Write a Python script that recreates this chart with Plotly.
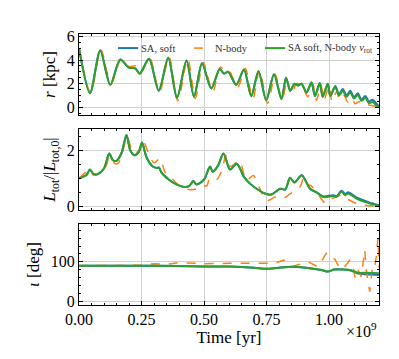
import plotly.graph_objects as go
from plotly.subplots import make_subplots

# time in units of 1e9 yr
t_r_soft = [0.0, 0.044, 0.085, 0.125, 0.165, 0.2, 0.225, 0.243, 0.28, 0.319, 0.357, 0.392, 0.43, 0.46,
            0.492, 0.529, 0.563, 0.58, 0.597, 0.629, 0.66, 0.689, 0.718, 0.749, 0.78, 0.81, 0.828, 0.845,
            0.862, 0.876, 0.89, 0.91, 0.93, 0.944, 0.963, 0.975, 0.995, 1.005, 1.025, 1.04, 1.055, 1.07,
            1.085, 1.1, 1.115, 1.13, 1.145, 1.16, 1.175, 1.19, 1.2]
r_soft = [5.0, 1.2, 4.8, 1.9, 4.05, 3.35, 3.3, 2.85, 4.1, 1.4, 4.2, 0.8, 3.95, 0.9,
          3.72, 1.6, 3.25, 2.85, 3.0, 1.9, 3.2, 0.94, 3.05, 0.6, 2.8, 0.7, 2.5, 1.4,
          2.0, 1.85, 2.0, 1.25, 2.1, 0.95, 2.05, 0.9, 2.0, 0.95, 1.8, 1.1, 1.55, 1.0,
          1.4, 0.85, 1.2, 0.65, 0.95, 0.5, 0.65, 0.3, 0.08]
r_vrot = [5.0, 1.2, 4.8, 1.9, 4.05, 3.35, 3.3, 2.85, 4.1, 1.4, 4.2, 0.8, 3.95, 0.9,
          3.72, 1.6, 3.25, 2.85, 3.0, 1.9, 3.2, 0.94, 3.05, 0.6, 2.8, 0.7, 2.5, 1.4,
          2.0, 1.85, 2.0, 1.25, 2.1, 0.95, 2.05, 0.9, 2.0, 0.95, 1.75, 1.0, 1.4, 0.9,
          1.25, 0.75, 1.05, 0.55, 0.8, 0.35, 0.45, 0.15, 0.05]

t_r_nbody = [0.0, 0.046, 0.088, 0.128, 0.168, 0.2, 0.228, 0.248, 0.283, 0.322, 0.36, 0.395, 0.435, 0.465,
             0.497, 0.535, 0.565, 0.585, 0.6, 0.635, 0.665, 0.695, 0.722, 0.755, 0.785, 0.812, 0.832, 0.85,
             0.87, 0.89, 0.915, 0.935, 0.95, 0.968, 0.98, 1.0, 1.012, 1.03, 1.045, 1.06, 1.075, 1.09,
             1.105, 1.12, 1.14, 1.16, 1.2]
r_nbody = [5.0, 1.25, 4.85, 1.95, 4.05, 3.45, 3.5, 2.95, 4.15, 1.3, 4.25, 0.55, 4.1, 0.75,
           3.8, 1.3, 3.4, 3.05, 3.1, 1.7, 3.3, 0.7, 3.1, 0.35, 2.8, 0.5, 2.3, 1.1,
           2.0, 1.9, 0.9, 2.0, 0.6, 1.9, 0.6, 1.8, 0.5, 1.3, 0.6, 1.0, 0.45, 0.8,
           0.3, 0.5, 0.15, 0.2, 0.0]

t_L_soft = [0.0, 0.03, 0.044, 0.058, 0.075, 0.1, 0.121, 0.135, 0.15, 0.17, 0.19, 0.205, 0.222, 0.24,
            0.252, 0.27, 0.295, 0.312, 0.32, 0.33, 0.36, 0.39, 0.415, 0.44, 0.457, 0.47, 0.5, 0.524,
            0.535, 0.556, 0.578, 0.604, 0.631, 0.66, 0.684, 0.712, 0.737, 0.769, 0.804, 0.825, 0.844,
            0.862, 0.891, 0.924, 0.95, 0.977, 1.017, 1.03, 1.05, 1.065, 1.077, 1.11, 1.15, 1.175, 1.2]
L_soft = [1.0, 1.12, 1.31, 1.15, 1.15, 1.35, 1.88, 1.65, 1.62, 1.9, 2.54, 2.0, 1.82, 1.95,
          2.27, 1.75, 1.42, 1.37, 1.38, 1.2, 0.95, 0.78, 0.7, 0.72, 0.9, 0.78, 0.95, 1.42,
          1.23, 1.45, 1.88, 1.31, 1.52, 1.05, 0.81, 0.62, 0.48, 0.42, 0.63, 0.6, 1.02,
          0.85, 1.11, 0.63, 0.5, 0.35, 0.4, 0.36, 0.56, 0.44, 0.5, 0.32, 0.18, 0.1, 0.04]
L_vrot = [1.0, 1.12, 1.31, 1.15, 1.15, 1.35, 1.88, 1.65, 1.62, 1.9, 2.54, 2.0, 1.82, 1.95,
          2.27, 1.75, 1.42, 1.37, 1.38, 1.2, 0.95, 0.78, 0.7, 0.72, 0.9, 0.78, 0.95, 1.42,
          1.23, 1.45, 1.88, 1.31, 1.52, 1.05, 0.81, 0.62, 0.48, 0.42, 0.63, 0.6, 1.02,
          0.85, 1.11, 0.63, 0.5, 0.33, 0.37, 0.34, 0.52, 0.4, 0.46, 0.28, 0.14, 0.07, 0.02]

t_L_nbody = [0.0, 0.044, 0.057, 0.1, 0.123, 0.14, 0.155, 0.17, 0.192, 0.21, 0.225, 0.24, 0.255, 0.28,
             0.3, 0.324, 0.345, 0.37, 0.4, 0.44, 0.47, 0.495, 0.51, 0.524, 0.55, 0.57, 0.588, 0.605,
             0.641, 0.67, 0.697, 0.72, 0.75, 0.783, 0.8, 0.82, 0.84, 0.884, 0.9, 0.915, 0.931, 0.955,
             0.985, 1.01, 1.05, 1.076, 1.103, 1.143, 1.2]
L_nbody = [1.0, 1.3, 1.12, 1.28, 1.78, 1.55, 1.52, 1.78, 2.48, 2.05, 1.9, 2.0, 2.36, 1.85,
           1.55, 1.7, 1.2, 1.0, 0.75, 0.6, 0.62, 0.75, 0.72, 1.0, 0.95, 1.25, 1.8, 1.42,
           1.62, 0.93, 1.1, 0.7, 0.2, 0.33, 0.36, 0.3, 0.42, 0.69, 1.05, 0.8, 0.71, 0.45,
           0.12, 0.27, 0.39, 0.25, 0.13, 0.04, 0.0]

t_i_soft = [0.0, 0.2, 0.4, 0.5, 0.6, 0.7, 0.75, 0.8, 0.86, 0.93, 0.97, 0.996, 1.02, 1.06, 1.09,
            1.116, 1.15, 1.2]
i_soft = [90, 90, 89, 88, 88, 85, 82, 85, 87, 83, 79, 75, 80, 80, 77, 70, 68, 66]
i_vrot = [90, 90, 89, 88, 88, 85, 82, 85, 87, 83, 79, 75, 80, 80, 78, 72, 72, 71]

t_i_nbody = [0.0, 0.25, 0.3, 0.35, 0.4, 0.45, 0.5, 0.6, 0.676, 0.743, 0.78, 0.82, 0.849, 0.88,
             0.916, 0.956, 0.989, 1.003, 1.023, 1.043, 1.056, 1.083, 1.096, 1.105, 1.116, 1.129,
             1.136, 1.143, 1.149, 1.163, 1.172, 1.18, 1.189, 1.196, 1.2]
i_nbody = [90, 91, 95, 93, 98, 97, 95, 96, 96, 97.5, 96, 104, 87, 93,
           100, 87, 121, 108, 107, 83, 81, 104, 87, 58, 79, 62,
           100, 130, 79, 24, 79, 75, 113, 160, 85]

legend_names = ['SA, soft', 'N-body', 'SA soft, N-body <i>v</i><sub>rot</sub>']

BLUE = '#1f77b4'
ORANGE = '#ff7f0e'
GREEN = '#2ca02c'
FONT = 'Liberation Serif, DejaVu Serif, serif'

fig = make_subplots(rows=3, cols=1, shared_xaxes=True, vertical_spacing=0.05)

panels = [
    (1, t_r_soft, r_soft, t_r_nbody, r_nbody, r_vrot),
    (2, t_L_soft, L_soft, t_L_nbody, L_nbody, L_vrot),
    (3, t_i_soft, i_soft, t_i_nbody, i_nbody, i_vrot),
]
for row, ts, ys, tn, yn, yv in panels:
    fig.add_trace(go.Scatter(x=ts, y=ys, mode='lines', name=legend_names[0],
                             line=dict(color=BLUE, width=2, shape='spline', smoothing=0.8)),
                  row=row, col=1)
    fig.add_trace(go.Scatter(x=tn, y=yn, mode='lines', name=legend_names[1],
                             line=dict(color=ORANGE, width=1.5, dash='dash',
                                       shape='linear' if row == 3 else 'spline', smoothing=0.8)),
                  row=row, col=1)
    fig.add_trace(go.Scatter(x=ts, y=yv, mode='lines', name=legend_names[2],
                             line=dict(color=GREEN, width=2, shape='spline', smoothing=0.8)),
                  row=row, col=1)

axis_style = dict(showline=True, linecolor='black', linewidth=1, mirror='allticks',
                  ticks='inside', ticklen=4, tickcolor='black', showgrid=True,
                  gridcolor='#d0d0d0', gridwidth=1, zeroline=False,
                  tickfont=dict(family=FONT, size=16, color='black'))

fig.update_xaxes(**axis_style, range=[0, 1.2], dtick=0.25, tickformat='.2f',
                 minor=dict(ticks='inside', ticklen=2, dtick=0.05, tickcolor='black', showgrid=False))
fig.update_xaxes(row=3, col=1,
                 title=dict(text='Time [yr]', font=dict(family=FONT, size=17, color='black'), standoff=0))

fig.update_yaxes(**axis_style)
fig.update_yaxes(row=1, col=1, domain=[0.701, 1.0], range=[-0.65, 6.2], dtick=2,
                 minor=dict(ticks='inside', ticklen=2, dtick=0.5, tickcolor='black', showgrid=False),
                 title=dict(text='<i>r</i> [kpc]', font=dict(family=FONT, size=17, color='black'), standoff=6))
fig.update_yaxes(row=2, col=1, domain=[0.351, 0.649], range=[-0.125, 2.75], dtick=2,
                 minor=dict(ticks='inside', ticklen=2, dtick=0.5, tickcolor='black', showgrid=False),
                 title=dict(text='<i>L</i><sub>tot</sub>/|<i>L</i><sub>tot,0</sub>|',
                            font=dict(family=FONT, size=17, color='black'), standoff=6))
fig.update_yaxes(row=3, col=1, domain=[0.0, 0.299], range=[-10, 196], tickvals=[0, 100],
                 minor=dict(ticks='inside', ticklen=2, dtick=20, tickcolor='black', showgrid=False),
                 title=dict(text='<i>ι</i> [deg]', font=dict(family=FONT, size=17, color='black'), standoff=6))

fig.add_annotation(text='×10<sup>9</sup>', xref='paper', yref='paper', x=1.0, y=-0.092,
                   xanchor='right', yanchor='middle', showarrow=False,
                   font=dict(family=FONT, size=16, color='black'))

# legend drawn by hand inside the top panel (matplotlib-style, 3 columns)
leg_y = 0.948
leg_items = [(0.13, 0.197, BLUE, 'solid'), (0.383, 0.443, ORANGE, 'dash'), (0.62, 0.687, GREEN, 'solid')]
for (x0, x1, col, dash), name in zip(leg_items, legend_names):
    fig.add_shape(type='line', xref='paper', yref='paper', x0=x0, x1=x1, y0=leg_y, y1=leg_y,
                  line=dict(color=col, width=2 if dash == 'solid' else 1.5, dash=dash))
    fig.add_annotation(text=name, xref='paper', yref='paper', x=x1 + 0.004, y=leg_y,
                       xanchor='left', yanchor='middle', showarrow=False,
                       font=dict(family=FONT, size=10.5, color='#333'))

fig.update_layout(
    width=399, height=359,
    margin=dict(l=79, r=20, t=34, b=54),
    plot_bgcolor='white', paper_bgcolor='white',
    showlegend=False,
)

# the page body has a default 8px margin; remove it so the figure sits at the corner
fig.write_html("out.html", config={'displayModeBar': False},
               post_script="document.body.style.margin='0';")
